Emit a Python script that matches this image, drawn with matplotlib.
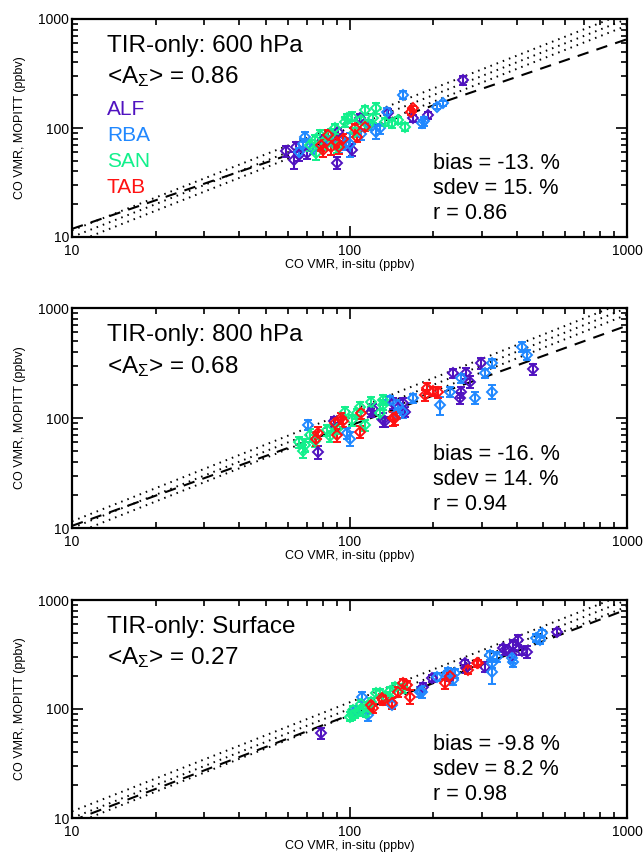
import numpy as np
import matplotlib
matplotlib.use("Agg")
import matplotlib.pyplot as plt
from matplotlib.ticker import LogLocator, FixedLocator, NullFormatter

plt.rcParams['font.family'] = ['Liberation Sans', 'DejaVu Sans']
plt.rcParams['mathtext.fontset'] = 'custom'
plt.rcParams['mathtext.rm'] = 'Liberation Sans'
plt.rcParams['mathtext.it'] = 'Liberation Sans:italic'

STATIONS = ['ALF', 'RBA', 'SAN', 'TAB']
COLORS = ['#5012c0', '#2088ff', '#12f08c', '#ff1212']
PANEL_TITLES = ['TIR-only: 600 hPa', 'TIR-only: 800 hPa', 'TIR-only: Surface']
AVG_KERNEL = ['0.86', '0.68', '0.27']
BIAS = ['-13. %', '-16. %', '-9.8 %']
SDEV = ['15. %', '14. %', '8.2 %']
CORR = ['0.86', '0.94', '0.98']
# regression (log-log) at x=100 and slope
FIT_AT_100 = [88.0, 85.0, 88.0]
FIT_SLOPE = [0.87, 0.91, 0.97]
REFERENCE_FACTORS = [0.87, 1.0, 1.15]
TICKS = [10, 100, 1000]
TICK_LABELS = ['10', '100', '1000']

# ---------------- 600 hPa ----------------
P600_ALF_X = [59, 63, 64, 70, 90, 102, 109, 91, 138, 170, 192, 256, 80, 66]
P600_ALF_Y = [61, 51, 67, 59, 48, 63, 123, 92, 136, 123, 131, 275, 78, 57]
P600_ALF_E = [7, 9, 7, 7, 6, 8, 12, 9, 12, 10, 10, 25, 8, 7]
P600_RBA_X = [69, 68, 96, 92, 125, 129, 119, 156, 182, 186, 206, 218, 136, 74, 100, 66, 85, 110]
P600_RBA_Y = [83, 72, 72, 67, 92, 99, 107, 201, 110, 115, 157, 169, 141, 65, 72, 60, 76, 88]
P600_RBA_E = [8, 8, 9, 8, 12, 10, 11, 18, 9, 10, 9, 9, 10, 7, 18, 6, 8, 10]
P600_SAN_X = [76, 75, 78, 82, 89, 96, 98, 102, 114, 125, 122, 117, 134, 142, 150, 158, 105, 90, 72, 86, 110]
P600_SAN_Y = [59, 78, 86, 72, 99, 114, 123, 127, 146, 152, 123, 107, 114, 110, 118, 103, 92, 67, 70, 88, 118]
P600_SAN_E = [8, 9, 10, 9, 10, 11, 12, 12, 13, 17, 12, 10, 9, 9, 9, 9, 9, 8, 8, 9, 10]
P600_TAB_X = [79, 80, 84, 86, 90, 92, 105, 106, 114, 170, 167, 95]
P600_TAB_Y = [70, 63, 86, 67, 75, 67, 99, 83, 103, 152, 141, 80]
P600_TAB_E = [8, 9, 9, 10, 9, 9, 10, 9, 9, 8, 8, 9]

# ---------------- 800 hPa ----------------
P800_ALF_X = [457, 299, 264, 272, 237, 253, 250, 156, 132, 122, 144, 77, 88, 120, 134, 158]
P800_ALF_Y = [277, 314, 255, 214, 255, 173, 151, 136, 96, 122, 136, 49, 93, 114, 93, 114]
P800_ALF_E = [30, 35, 30, 25, 25, 20, 18, 15, 14, 13, 15, 7, 10, 12, 10, 12]
P800_RBA_X = [417, 435, 325, 283, 325, 253, 308, 230, 212, 170, 156, 148, 71, 98, 100, 150, 140]
P800_RBA_Y = [445, 374, 173, 153, 314, 230, 255, 173, 131, 151, 114, 110, 86, 73, 65, 131, 146]
P800_RBA_E = [50, 40, 25, 18, 30, 22, 25, 18, 25, 15, 14, 12, 9, 8, 9, 14, 14]
P800_SAN_X = [69, 72, 83, 85, 102, 106, 109, 114, 129, 132, 120, 96, 132, 68, 66, 75, 90]
P800_SAN_Y = [57, 70, 78, 68, 96, 110, 127, 86, 110, 131, 141, 114, 146, 50, 60, 62, 80]
P800_SAN_E = [8, 9, 9, 8, 11, 12, 14, 10, 12, 14, 14, 12, 15, 7, 7, 8, 9]
P800_TAB_X = [209, 187, 190, 200, 144, 76, 77, 89, 93, 95, 90, 109, 146, 110]
P800_TAB_Y = [173, 162, 186, 175, 99, 65, 73, 90, 99, 93, 70, 75, 99, 110]
P800_TAB_E = [20, 18, 20, 18, 14, 9, 9, 10, 11, 10, 9, 9, 12, 12]

# ---------------- Surface ----------------
SFC_ALF_X = [79, 558, 389, 405, 435, 363, 308, 261, 264, 198, 184, 358, 384, 389, 420, 230]
SFC_ALF_Y = [60, 512, 386, 430, 336, 348, 244, 262, 236, 191, 160, 360, 313, 386, 340, 195]
SFC_ALF_E = [7, 30, 40, 45, 40, 35, 25, 22, 20, 15, 14, 30, 30, 35, 30, 15]
SFC_RBA_X = [493, 486, 384, 339, 325, 325, 227, 237, 182, 117, 111, 142, 179, 206, 224, 240, 321, 389, 470, 105]
SFC_RBA_Y = [494, 430, 292, 302, 220, 262, 220, 185, 144, 88, 130, 109, 144, 198, 205, 213, 313, 272, 450, 95]
SFC_RBA_E = [40, 35, 25, 30, 50, 25, 20, 20, 18, 10, 14, 10, 15, 18, 18, 20, 30, 28, 40, 9]
SFC_SAN_X = [100, 103, 105, 108, 112, 115, 117, 125, 129, 146, 156, 135, 140, 102, 110, 120]
SFC_SAN_Y = [85, 98, 90, 95, 100, 92, 105, 139, 139, 160, 155, 130, 145, 88, 110, 115]
SFC_SAN_E = [8, 9, 8, 9, 9, 8, 10, 12, 12, 14, 14, 12, 13, 8, 10, 10]
SFC_TAB_X = [221, 165, 150, 142, 132, 122, 156, 120, 131, 161, 291, 268, 287, 230]
SFC_TAB_Y = [172, 130, 144, 113, 121, 102, 172, 109, 125, 166, 262, 228, 262, 200]
SFC_TAB_E = [18, 18, 15, 12, 12, 10, 16, 10, 12, 15, 18, 18, 18, 16]

PANELS = [
    [(P600_ALF_X, P600_ALF_Y, P600_ALF_E), (P600_RBA_X, P600_RBA_Y, P600_RBA_E),
     (P600_SAN_X, P600_SAN_Y, P600_SAN_E), (P600_TAB_X, P600_TAB_Y, P600_TAB_E)],
    [(P800_ALF_X, P800_ALF_Y, P800_ALF_E), (P800_RBA_X, P800_RBA_Y, P800_RBA_E),
     (P800_SAN_X, P800_SAN_Y, P800_SAN_E), (P800_TAB_X, P800_TAB_Y, P800_TAB_E)],
    [(SFC_ALF_X, SFC_ALF_Y, SFC_ALF_E), (SFC_RBA_X, SFC_RBA_Y, SFC_RBA_E),
     (SFC_SAN_X, SFC_SAN_Y, SFC_SAN_E), (SFC_TAB_X, SFC_TAB_Y, SFC_TAB_E)],
]

W, H = 643, 856
fig = plt.figure(figsize=(W / 100, H / 100), dpi=100)

# axes rectangles in pixels: (left, top, right, bottom)
rects_px = [(72, 19, 627, 237), (72, 308, 627, 528), (72, 600, 627, 818)]

for i, (l, t, r, b) in enumerate(rects_px):
    ax = fig.add_axes([l / W, 1 - b / H, (r - l) / W, (b - t) / H])
    ax.set_xscale('log')
    ax.set_yscale('log')
    ax.set_xlim(10, 1000)
    ax.set_ylim(10, 1000)

    xx = np.logspace(1, 3, 200)
    for f in REFERENCE_FACTORS:
        ax.plot(xx, f * xx, color='black', lw=1.4, linestyle=(0, (0.8, 2.6)), zorder=2)
    fit = FIT_AT_100[i] * (xx / 100.0) ** FIT_SLOPE[i]
    ax.plot(xx, fit, color='black', lw=1.5, linestyle=(0, (5.5, 4)), zorder=3)

    for (xs, ys, es), c in zip(PANELS[i], COLORS):
        ax.errorbar(xs, ys, yerr=es, fmt='D', color=c, mfc='none', mec=c,
                    ms=5.5, mew=1.4, elinewidth=1.5, capsize=3, capthick=1.5,
                    zorder=4)

    for s in ax.spines.values():
        s.set_linewidth(1.6)
    ax.xaxis.set_major_locator(FixedLocator(TICKS))
    ax.yaxis.set_major_locator(FixedLocator(TICKS))
    ax.set_xticklabels(TICK_LABELS)
    ax.set_yticklabels(TICK_LABELS)
    ax.xaxis.set_minor_locator(LogLocator(base=10, subs=np.arange(2, 10)))
    ax.yaxis.set_minor_locator(LogLocator(base=10, subs=np.arange(2, 10)))
    ax.xaxis.set_minor_formatter(NullFormatter())
    ax.yaxis.set_minor_formatter(NullFormatter())
    ax.tick_params(which='both', direction='in', top=True, right=True, width=1.2,
                   labelsize=10, pad=2)
    ax.tick_params(which='major', length=8)
    ax.tick_params(which='minor', length=4)
    ax.tick_params(axis='x', pad=5)

    ax.set_xlabel('CO VMR, in-situ (ppbv)', fontsize=9, labelpad=1)
    ax.set_ylabel('CO VMR, MOPITT (ppbv)', fontsize=9, labelpad=9)

    ax.text(0.063, 0.875, PANEL_TITLES[i], transform=ax.transAxes, fontsize=17.5,
            va='center', ha='left')
    ax.text(0.063, 0.735, r'<A$_{\Sigma}$> = ' + AVG_KERNEL[i], transform=ax.transAxes,
            fontsize=17.5, va='center', ha='left')
    if i == 0:
        for k, (nm, c) in enumerate(zip(STATIONS, COLORS)):
            ax.text(0.063, 0.585 - k * 0.12, nm, color=c, transform=ax.transAxes,
                    fontsize=15, va='center', ha='left')
    ax.text(0.65, 0.335, 'bias = ' + BIAS[i], transform=ax.transAxes, fontsize=15.6,
            va='center', ha='left')
    ax.text(0.65, 0.222, 'sdev = ' + SDEV[i], transform=ax.transAxes, fontsize=15.6,
            va='center', ha='left')
    ax.text(0.65, 0.108, 'r = ' + CORR[i], transform=ax.transAxes, fontsize=15.6,
            va='center', ha='left')

fig.savefig('out.png', dpi=100)
